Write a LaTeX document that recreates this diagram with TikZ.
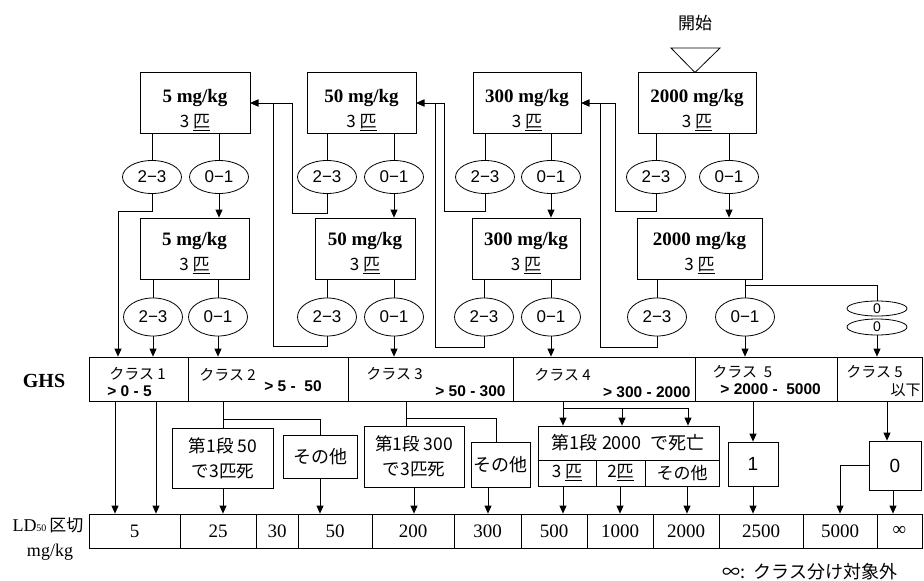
\documentclass[tikz,border=0pt]{standalone}
\usepackage{fontspec}
\setmainfont{Liberation Serif}
\newfontfamily\cjk{Noto Sans CJK JP}
\newfontfamily\sansf{Liberation Sans}
\usetikzlibrary{arrows.meta,shapes.geometric,calc}
\newcommand\dosetxt[3]{\rule{0pt}{#2}{\bfseries #1 mg/kg}\\[3pt]{\cjk\fontsize{17}{18}\selectfont 3 \underline{匹}}\rule[-#3]{0pt}{0pt}}
\begin{document}
\begin{tikzpicture}[x=1pt,y=-1pt,line width=0.8pt,>={Triangle[length=8pt,width=7pt]},
 dosebox/.style={draw,minimum width=#1,minimum height=61pt,inner sep=0pt,align=center,font=\fontsize{19}{22}\selectfont},
 ovalnode/.style={draw,ellipse,minimum width=59pt,minimum height=#1,inner sep=0pt,font=\sansf\fontsize{17}{17}\selectfont},
 zoval/.style={draw,ellipse,minimum width=60pt,minimum height=#1,inner sep=0pt,font=\sansf\fontsize{14}{14}\selectfont},
 gcell/.style={draw,minimum width=#1,minimum height=44pt,inner sep=0pt},
 lcell/.style={draw,minimum width=#1,minimum height=34pt,inner sep=0pt,font=\fontsize{19}{19}\selectfont},
 cls/.style={font=\cjk\fontsize{15}{15}\selectfont,inner sep=0pt},
 rng/.style={font=\sansf\bfseries\fontsize{15.5}{15.5}\selectfont,inner sep=0pt},
 jbox/.style={draw,align=center,inner sep=0pt,font=\cjk\fontsize{17.5}{25}\selectfont},
 jtxt/.style={inner sep=0pt,font=\cjk\fontsize{17}{17}\selectfont},
]
\useasboundingbox (0,0) rectangle (924,581);

% start
\node[jtxt] (start) at (695,23) {開始};
\draw (671,48) -- (720,48) -- (695,0 |- 0,72.5) -- cycle;

% dose boxes
\node[dosebox=110pt] (A1) at (195,103) {\dosetxt{5}{27pt}{0pt}};
\node[dosebox=109pt] (B1) at (361.5,103) {\dosetxt{50}{27pt}{0pt}};
\node[dosebox=108pt] (C1) at (527,103) {\dosetxt{300}{27pt}{0pt}};
\node[dosebox=118pt] (D1) at (697,103) {\dosetxt{2000}{27pt}{0pt}};
\node[dosebox=109pt] (A2) at (194.5,248.5) {\dosetxt{5}{22pt}{0pt}};
\node[dosebox=100pt] (B2) at (365,248.5) {\dosetxt{50}{22pt}{0pt}};
\node[dosebox=108pt] (C2) at (526,248.5) {\dosetxt{300}{22pt}{0pt}};
\node[dosebox=125pt] (D2) at (699.5,248.5) {\dosetxt{2000}{22pt}{0pt}};

% ellipses row 1
\node[ovalnode=33pt] (e1a) at (152,177) {2−3};
\node[ovalnode=33pt] (e1b) at (219,177) {0−1};
\node[ovalnode=33pt] (e1c) at (327,177) {2−3};
\node[ovalnode=33pt] (e1d) at (394,177) {0−1};
\node[ovalnode=33pt] (e1e) at (485,177) {2−3};
\node[ovalnode=33pt] (e1f) at (551,177) {0−1};
\node[ovalnode=33pt] (e1g) at (656,177) {2−3};
\node[ovalnode=33pt] (e1h) at (729,177) {0−1};
% ellipses row 2
\node[ovalnode=38pt] (e2a) at (153,317) {2−3};
\node[ovalnode=38pt] (e2b) at (218,317) {0−1};
\node[ovalnode=38pt] (e2c) at (327,317) {2−3};
\node[ovalnode=38pt] (e2d) at (394,317) {0−1};
\node[ovalnode=38pt] (e2e) at (484,317) {2−3};
\node[ovalnode=38pt] (e2f) at (551,317) {0−1};
\node[ovalnode=38pt] (e2g) at (657,317) {2−3};
\node[ovalnode=38pt] (e2h) at (745,317) {0−1};
\node[zoval=15pt] (z1) at (877,308.5) {0};
\node[zoval=16pt] (z2) at (877,327) {0};

% GHS row
\node[font=\bfseries\fontsize{20}{20}\selectfont] (ghs) at (44,381) {GHS};
\node[gcell=99pt] (G1) at (138.5,379) {};
\node[gcell=160pt] (G2) at (268,379) {};
\node[gcell=165pt] (G3) at (430.5,379) {};
\node[gcell=182pt] (G4) at (604,379) {};
\node[gcell=142pt] (G5) at (766,379) {};
\node[gcell=85pt] (G6) at (879.5,379) {};
\node[cls,anchor=west] (c1) at (109,374) {クラス 1};
\node[rng,anchor=west] (r1) at (107,391) {> 0 - 5};
\node[cls,anchor=west] (c2) at (199,375) {クラス 2};
\node[rng,anchor=west] (r2) at (264,386) {> 5 -\ \ 50};
\node[cls,anchor=west] (c3) at (366,374) {クラス 3};
\node[rng,anchor=east] (r3) at (506,391) {> 50 - 300};
\node[cls,anchor=west] (c4) at (534,375) {クラス 4};
\node[rng,anchor=east] (r4) at (691,392) {> 300 - 2000};
\node[cls,anchor=west] (c5) at (712,372) {クラス\ \ 5};
\node[rng,anchor=west] (r5) at (720,389) {> 2000 -\ \ 5000};
\node[cls,anchor=west] (c6) at (846,372) {クラス 5};
\node[cls,anchor=east] (r6) at (921,390) {以下};

% LD50 row
\node[inner sep=0pt] (ldl) at (48,525) {\fontsize{18}{18}\selectfont LD{\fontsize{10}{10}\selectfont 50}\,{\cjk\fontsize{17}{17}\selectfont 区切}};
\node[inner sep=0pt,font=\fontsize{18}{18}\selectfont] (ldu) at (50,552) {mg/kg};
\node[lcell=91pt] (L1) at (134.5,531) {5};
\node[lcell=76pt] (L2) at (218,531) {25};
\node[lcell=42pt] (L3) at (277,531) {30};
\node[lcell=74pt] (L4) at (335,531) {50};
\node[lcell=82pt] (L5) at (413,531) {200};
\node[lcell=67pt] (L6) at (487.5,531) {300};
\node[lcell=66pt] (L7) at (554,531) {500};
\node[lcell=66pt] (L8) at (620,531) {1000};
\node[lcell=66pt] (L9) at (686,531) {2000};
\node[lcell=84pt] (L10) at (761,531) {2500};
\node[lcell=74pt] (L11) at (840,531) {5000};
\node[lcell=45pt] (L12) at (899.5,531) {∞};

% lower boxes
\node[jbox,minimum width=101pt,minimum height=60pt] (b50) at (223,458) {第1段 50\\で3匹死};
\node[jbox,minimum width=74pt,minimum height=43pt,font=\cjk\fontsize{18}{18}\selectfont] (o1) at (320,456.5) {その他};
\node[jbox,minimum width=100pt,minimum height=61pt] (b300) at (414,456.5) {第1段 300\\で3匹死};
\node[jbox,minimum width=59pt,minimum height=45pt,font=\cjk\fontsize{18}{18}\selectfont] (o2) at (500.5,464.5) {その他};
\node[draw,minimum width=181pt,minimum height=60pt,inner sep=0pt] (b2000) at (628.5,456) {};
\draw (b2000.west |- 0,460) -- (b2000.east |- 0,460);
\draw (596,460) -- (596,0 |- b2000.south);
\draw (645,460) -- (645,0 |- b2000.south);
\node[jtxt,font=\cjk\fontsize{18}{18}\selectfont] (t2000) at (628,443) {第1段 2000\ \ で死亡};
\node[jtxt] (s3) at (567,473) {3 \underline{匹}};
\node[jtxt] (s2) at (620.5,473) {2\underline{匹}};
\node[jtxt] (s0) at (682,473) {その他};
\node[draw,minimum width=50pt,minimum height=44pt,inner sep=0pt,font=\sansf\fontsize{19}{19}\selectfont] (one) at (753,464) {1};
\node[draw,minimum width=52pt,minimum height=49pt,inner sep=0pt,font=\sansf\fontsize{19}{19}\selectfont] (zero) at (895,465.5) {0};

\node[jtxt,anchor=west,font=\cjk\fontsize{18}{18}\selectfont] (note) at (722,572) {∞:\ \ クラス分け対象外};

% connectors upper
\foreach \e/\b in {e1a/A1,e1b/A1,e1c/B1,e1d/B1,e1e/C1,e1f/C1,e1g/D1,e1h/D1,e2a/A2,e2b/A2,e2c/B2,e2d/B2,e2e/C2,e2f/C2,e2g/D2,e2h/D2}
  \draw (\e.north) -- (\e.north |- \b.south);
\foreach \e/\b in {e1b/A2,e1d/B2,e1f/C2,e1h/D2}
  \draw[->] (\e.south) -- (\e.south |- \b.north);
\foreach \e/\g in {e2a/G1,e2b/G2,e2d/G3,e2f/G4,e2h/G5,z2/G6}
  \draw[->] (\e.south) -- (\e.south |- \g.north);
\draw[->] (e1a.south) |- (118,211) -- (118,0 |- G1.north);
\draw[->] (e1c.south) |- (292,213) |- (A1.east);
\draw[->] (e2c.south) |- (273,346) |- (A1.east);
\draw[->] (e1e.south) |- (444,211) |- (B1.east);
\draw[->] (e2e.south) |- (435,347) |- (B1.east);
\draw[->] (e1g.south) |- (615,211) |- (C1.east);
\draw[->] (e2g.south) |- (600,347) |- (C1.east);
\draw (745,285) -| (z1.north);

% connectors lower
\draw[->] (115,0 |- G1.south) -- (115,0 |- L1.north);
\draw[->] (156,0 |- G1.south) -- (156,0 |- L1.north);
\draw (b50.north |- G2.south) -- (b50.north);
\draw (223,419) -| (o1.north);
\draw[->] (b50.south) -- (b50.south |- L2.north);
\draw[->] (o1.south) -- (o1.south |- L4.north);
\draw (406,0 |- G3.south) -- (406,0 |- b300.north);
\draw (406,418) -| (496,0 |- o2.north);
\draw[->] (b300.south) -- (b300.south |- L5.north);
\draw[->] (488,0 |- o2.south) -- (488,0 |- L6.north);
\draw (563,0 |- G4.south) -- (563,408) -- (688,408);
\foreach \x in {563,622,688} \draw[->] (\x,408) -- (\x,0 |- b2000.north);
\draw[->] (563,0 |- b2000.south) -- (563,0 |- L7.north);
\draw[->] (620,0 |- b2000.south) -- (620,0 |- L8.north);
\draw[->] (687,0 |- b2000.south) -- (687,0 |- L9.north);
\draw[->] (one.north |- G5.south) -- (one.north);
\draw[->] (one.south) -- (one.south |- L10.north);
\draw[->] (887,0 |- G6.south) -- (887,0 |- zero.north);
\draw[->] (893,0 |- zero.south) -- (893,0 |- L12.north);
\draw[->] (zero.west) -| (L11.north);
\end{tikzpicture}
\end{document}
